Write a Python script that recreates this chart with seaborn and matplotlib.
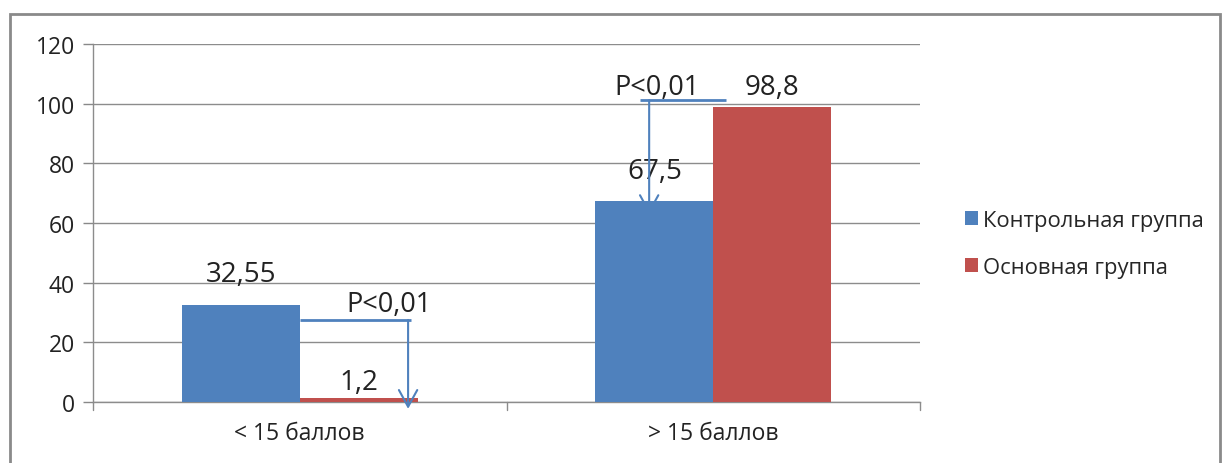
import matplotlib
matplotlib.use("Agg")
import matplotlib.pyplot as plt
import seaborn as sns
import pandas as pd
from matplotlib.patches import Rectangle, Patch

# Data
categories = ["< 15 баллов", "> 15 баллов"]
groups = ["Контрольная группа", "Основная группа"]
control_values = [32.55, 67.5]
main_values = [1.2, 98.8]
value_labels_text = {32.55: "32,55", 67.5: "67,5", 1.2: "1,2", 98.8: "98,8"}
p_label = "P<0,01"
y_ticks = [0, 20, 40, 60, 80, 100, 120]

colors = ["#4F81BD", "#C0504D"]

df = pd.DataFrame({
    "category": categories * 2,
    "group": [groups[0]] * 2 + [groups[1]] * 2,
    "value": control_values + main_values,
})

sns.set_theme(style="white")
plt.rcParams["font.family"] = ["Open Sans", "DejaVu Sans"]

fig = plt.figure(figsize=(12.28, 4.64), dpi=100)
ax = fig.add_axes([93 / 1228, 1 - 403 / 464, (920 - 93) / 1228, (403 - 45) / 464])

sns.barplot(data=df, x="category", y="value", hue="group", palette=colors,
            width=0.57, saturation=1, ax=ax, legend=False, zorder=3, linewidth=0)

ax.set_xlim(-0.5, 1.5)
ax.set_ylim(0, 120)
ax.set_yticks(y_ticks)
ax.set_yticklabels([str(t) for t in y_ticks], fontsize=16.5, color="#222222")
ax.set_xlabel("")
ax.set_ylabel("")
ax.tick_params(axis="x", length=0, pad=14, labelsize=16.5, labelcolor="#222222")
ax.tick_params(axis="y", length=7, width=1, color="#888888", pad=6, left=True)
ax.yaxis.grid(True, color="#8c8c8c", linewidth=1)
ax.set_axisbelow(True)

for s in ["top", "right"]:
    ax.spines[s].set_visible(False)
for s in ["left", "bottom"]:
    ax.spines[s].set_color("#8c8c8c")
    ax.spines[s].set_linewidth(1)

# category boundary ticks under the x axis
for xb in [-0.5, 0.5, 1.5]:
    ax.plot([xb, xb], [0, -2.6], color="#8c8c8c", lw=1, clip_on=False, zorder=2)

# value labels above each bar
label_offsets = {32.55: 10.3, 1.2: 5.5, 67.5: 9.9, 98.8: 6.8}
for patch in ax.patches:
    h = patch.get_height()
    if h in value_labels_text:
        xc = patch.get_x() + patch.get_width() / 2
        ax.text(xc, h + label_offsets[h], value_labels_text[h], ha="center", va="center",
                fontsize=20, color="#222222", zorder=5)

# significance arrows
arrow_color = "#4F81BD"
def sig_arrow(x0, x1, xv, y_line, y_tip, tx, ty):
    ax.plot([x0, x1], [y_line, y_line], color=arrow_color, lw=2, clip_on=False, zorder=6,
            solid_capstyle="butt")
    ax.annotate("", xy=(xv, y_tip), xytext=(xv, y_line), annotation_clip=False,
                arrowprops=dict(arrowstyle="->,head_length=1.0,head_width=0.55",
                                color=arrow_color, lw=1.5, shrinkA=0, shrinkB=0),
                zorder=6)
    ax.text(tx, ty, p_label, ha="center", va="center", fontsize=19.5, color="#222222", zorder=7)

sig_arrow(0.0, 0.269, 0.262, 27.5, -2.3, 0.215, 32.9)
sig_arrow(0.823, 1.031, 0.845, 101.2, 63.0, 0.864, 105.6)

# legend on the right
handles = [Patch(facecolor=c, edgecolor="none") for c in colors]
fig.legend(handles, groups, loc="center left", bbox_to_anchor=(956 / 1228, 1 - 245 / 464),
           frameon=False, fontsize=15.8, handlelength=0.6, handleheight=0.6,
           handletextpad=0.25, labelspacing=1.2, borderaxespad=0)

# outer chart frame
fig.patches.append(Rectangle((10 / 1228, -0.05), (1220 - 10) / 1228, 1 - 15 / 464 + 0.05,
                             transform=fig.transFigure, fill=False, edgecolor="#8a8a8a",
                             linewidth=2))

fig.savefig("out.png", dpi=100, facecolor="white")
